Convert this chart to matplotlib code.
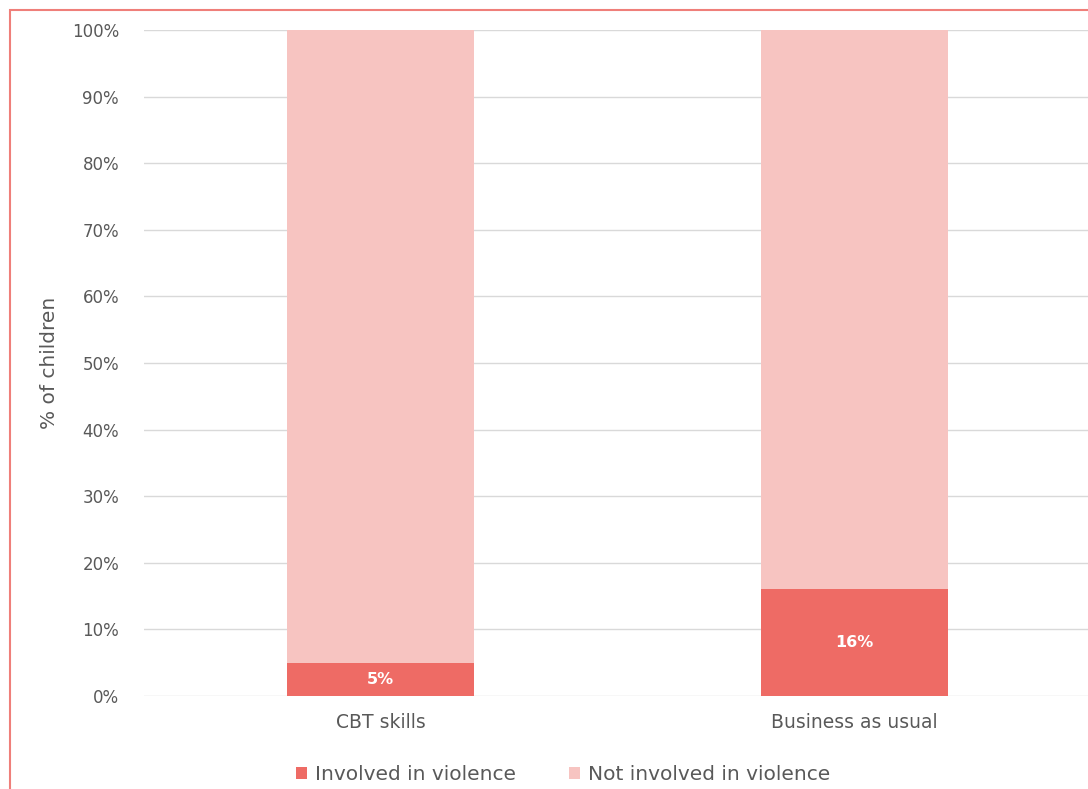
import matplotlib.pyplot as plt
from matplotlib.patches import Rectangle
from matplotlib.ticker import PercentFormatter

plt.rcParams['font.family'] = ['DejaVu Sans']

groups = ["CBT skills", "Business as usual"]
involved = [5, 16]
not_involved = [95, 84]
series_names = ["Involved in violence", "Not involved in violence"]

dark = "#EE6B65"
light = "#F7C4C1"
grey_text = "#595959"

fig = plt.figure(figsize=(10.88, 7.89), dpi=100)
ax = fig.add_axes([144 / 1088, 1 - 696 / 789, (1091.5 - 144) / 1088, (696 - 30) / 789])

x = range(len(groups))
b1 = ax.bar(x, involved, width=0.395, color=dark, label=series_names[0], zorder=3)
b2 = ax.bar(x, not_involved, width=0.395, bottom=involved, color=light,
            label=series_names[1], zorder=3)

for rect, v in zip(b1, involved):
    ax.text(rect.get_x() + rect.get_width() / 2, v / 2, f"{v}%",
            ha="center", va="center", color="white", fontsize=11.5,
            fontweight="bold", zorder=4)

ax.set_xlim(-0.5, 1.5)
ax.set_ylim(0, 100)
ax.set_yticks(range(0, 101, 10))
ax.yaxis.set_major_formatter(PercentFormatter(decimals=0))
ax.set_xticks(list(x))
ax.set_xticklabels(groups)
ax.tick_params(axis="y", length=0, labelsize=12, labelcolor=grey_text, pad=18)
ax.tick_params(axis="x", length=0, labelsize=13.5, labelcolor=grey_text, pad=12)
ax.grid(axis="y", color="#D9D9D9", linewidth=1, zorder=0)
for side in ax.spines.values():
    side.set_visible(False)

ax.set_ylabel("% of children", fontsize=14.5, color=grey_text, labelpad=9)

fig.legend(handles=[b1, b2], loc="center", bbox_to_anchor=(563 / 1088, 1 - 775 / 789),
           ncol=2, frameon=False, fontsize=14.5, labelcolor=grey_text,
           handlelength=0.55, handleheight=0.55, handletextpad=0.4, columnspacing=2.6)

fig.patches.append(Rectangle((10 / 1088, -0.1), 1.2, 1 - 10 / 789 + 0.1,
                             transform=fig.transFigure, fill=False,
                             edgecolor="#EF7F7A", linewidth=1.5))

fig.savefig("out.png", dpi=100)
